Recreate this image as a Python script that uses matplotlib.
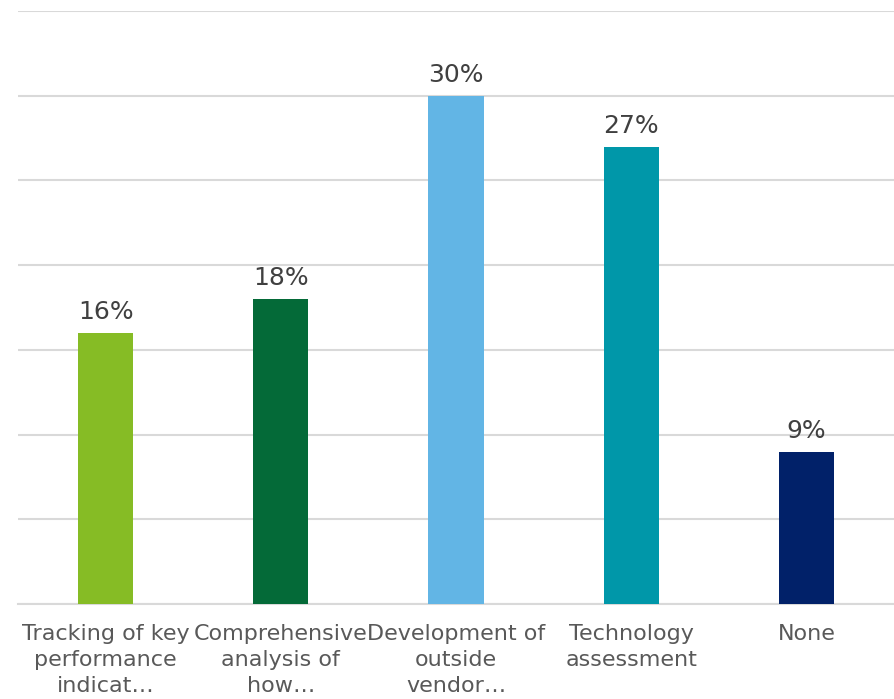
import matplotlib.pyplot as plt

categories = [
    "Tracking of key\nperformance\nindicat…",
    "Comprehensive\nanalysis of\nhow…",
    "Development of\noutside\nvendor…",
    "Technology\nassessment",
    "None",
]
values = [16, 18, 30, 27, 9]
colors = ["#86BC25", "#046A38", "#62B5E5", "#0097A9", "#012169"]

fig = plt.figure(figsize=(8.94, 6.99), dpi=100)
ax = fig.add_axes([18 / 894, 1 - 604 / 699, 876 / 894, (604 - 11) / 699])

x = list(range(len(categories)))
bars = ax.bar(x, values, width=0.315, color=colors, zorder=3)

ax.set_xlim(-0.5, len(categories) - 0.5)
ax.set_ylim(0, 35)
ax.set_yticks(range(0, 36, 5))
ax.yaxis.grid(True, color="#D9D9D9", linewidth=1.5, zorder=0)
ax.tick_params(axis="y", left=False, labelleft=False)
ax.tick_params(axis="x", length=0, pad=14.5)
ax.set_xticks(x)
ax.set_xticklabels(categories, fontsize=16, color="#595959",
                   family="DejaVu Sans", linespacing=1.38, va="top")
for s in ["top", "right", "left"]:
    ax.spines[s].set_visible(False)
ax.spines["bottom"].set_color("#D9D9D9")
ax.spines["bottom"].set_linewidth(1.5)

for rect, v in zip(bars, values):
    ax.annotate(f"{v}%", (rect.get_x() + rect.get_width() / 2, v),
                xytext=(0, 10), textcoords="offset points",
                ha="center", va="baseline", fontsize=18,
                family="DejaVu Sans", color="#404040")

fig.savefig("out.png", dpi=100)
